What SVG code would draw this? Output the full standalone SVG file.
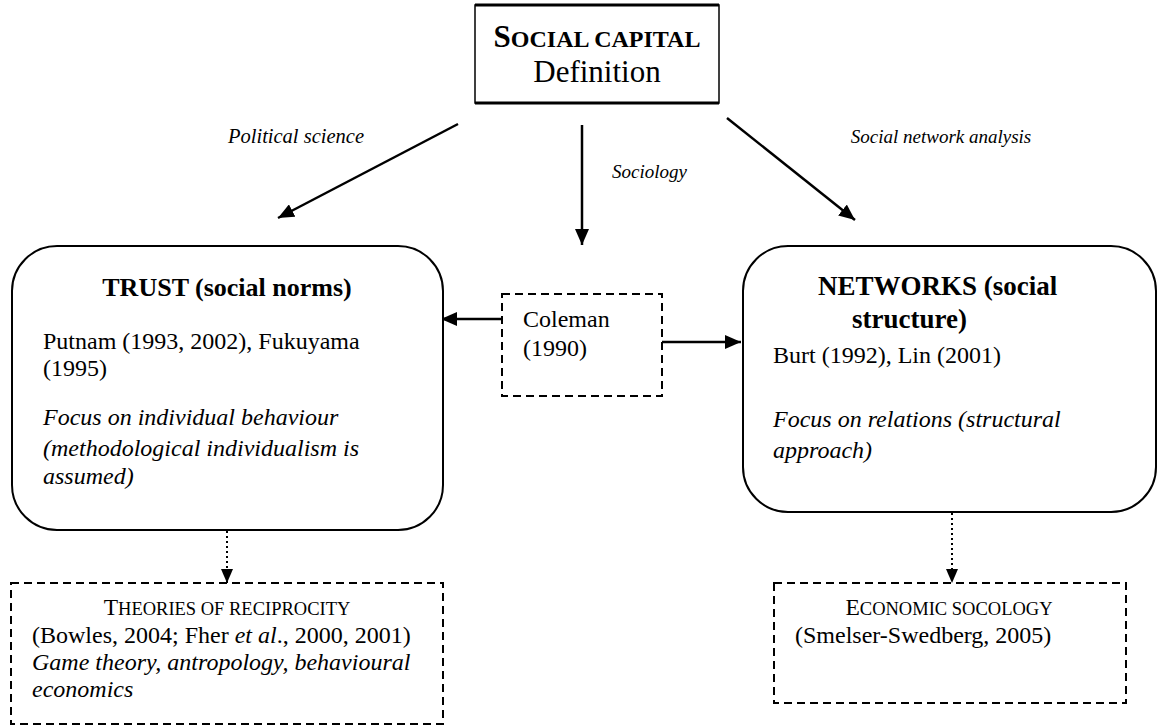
<svg xmlns="http://www.w3.org/2000/svg" width="1158" height="726" viewBox="0 0 1158 726" font-family="'Liberation Serif', 'Times New Roman', serif">
<style>
text, tspan{font-family:"Liberation Serif","Times New Roman",serif;fill:#000}
.b{font-size:24px}
.i{font-style:italic}
.bold{font-weight:bold}
.lab{font-size:19px;font-style:italic}
.box{fill:#fff;stroke:#000;stroke-width:2}
.dash{fill:none;stroke:#000;stroke-width:2;stroke-dasharray:8,5}
.arr{stroke:#000;stroke-width:2.5;fill:none}
.dot{stroke:#000;stroke-width:2;stroke-dasharray:2,3;fill:none}
</style>
<defs>
<marker id="ah" viewBox="0 0 16 14" refX="16" refY="7" markerWidth="16" markerHeight="14" markerUnits="userSpaceOnUse" orient="auto">
<path d="M0,0 L16,7 L0,14 Z" fill="#000"/>
</marker>
<marker id="ahs" viewBox="0 0 14 12" refX="14" refY="6" markerWidth="14" markerHeight="12" markerUnits="userSpaceOnUse" orient="auto">
<path d="M0,0 L14,6 L0,12 Z" fill="#000"/>
</marker>
</defs>
<g id="connectors">
<line class="arr" x1="458" y1="124" x2="278" y2="218" marker-end="url(#ah)"/>
<line class="arr" x1="582" y1="125" x2="582" y2="245" marker-end="url(#ah)"/>
<line class="arr" x1="727" y1="118" x2="855" y2="220" marker-end="url(#ah)"/>
<line class="arr" x1="502" y1="319" x2="441" y2="319" marker-end="url(#ah)"/>
<line class="arr" x1="662" y1="342" x2="741" y2="342" marker-end="url(#ah)"/>
<line class="dot" x1="227" y1="531" x2="227" y2="583" marker-end="url(#ahs)"/>
<line class="dot" x1="952" y1="513" x2="952" y2="583" marker-end="url(#ahs)"/>
<text class="lab" x="296" y="143" text-anchor="middle" style="font-size:20.5px">Political science</text>
<text class="lab" x="941" y="143" text-anchor="middle">Social network analysis</text>
<text class="lab" x="612" y="178">Sociology</text>
</g>
<g id="social-capital">
<rect x="475" y="5" width="244" height="98" fill="#fff" stroke="#000" stroke-width="1.5"/>
<line x1="475" y1="5" x2="719" y2="5" stroke="#000" stroke-width="3"/>
<line x1="475" y1="103" x2="719" y2="103" stroke="#000" stroke-width="3"/>
<text class="bold" x="597" y="47" text-anchor="middle"><tspan font-size="31px">S</tspan><tspan font-size="24px">OCIAL CAPITAL</tspan></text>
<text x="597" y="82" text-anchor="middle" font-size="31px">Definition</text>
</g>
<g id="trust">
<rect class="box" x="12" y="246" width="431" height="284" rx="45" ry="45"/>
<text class="bold" x="227" y="296" text-anchor="middle" font-size="26px">TRUST (social norms)</text>
<text class="b" x="43" y="349">Putnam (1993, 2002), Fukuyama</text>
<text class="b" x="43" y="376">(1995)</text>
<text class="b i" x="43" y="425">Focus on individual behaviour</text>
<text class="b i" x="43" y="456">(methodological individualism is</text>
<text class="b i" x="43" y="484">assumed)</text>
</g>
<g id="coleman">
<rect class="dash" x="502" y="294" width="160" height="102"/>
<text class="b" x="523" y="327">Coleman</text>
<text class="b" x="523" y="356">(1990)</text>
</g>
<g id="networks">
<rect class="box" x="743" y="246" width="413" height="266" rx="45" ry="45"/>
<text class="bold" x="818" y="295" font-size="27px">NETWORKS (social</text>
<text class="bold" x="852" y="328" font-size="27px">structure)</text>
<text class="b" x="773" y="363">Burt (1992), Lin (2001)</text>
<text class="b i" x="773" y="427">Focus on relations (structural</text>
<text class="b i" x="773" y="458">approach)</text>
</g>
<g id="reciprocity">
<rect class="dash" x="11" y="583" width="432" height="141"/>
<text x="227" y="615" text-anchor="middle"><tspan font-size="23.5px">T</tspan><tspan font-size="18.5px">HEORIES OF RECIPROCITY</tspan></text>
<text class="b" x="32" y="643">(Bowles, 2004; Fher <tspan class="i">et al</tspan>., 2000, 2001)</text>
<text class="b i" x="32" y="670">Game theory, antropology, behavioural</text>
<text class="b i" x="32" y="697">economics</text>
</g>
<g id="economic-sociology">
<rect class="dash" x="774" y="583" width="352" height="120"/>
<text x="949" y="615" text-anchor="middle"><tspan font-size="23.5px">E</tspan><tspan font-size="18.5px">CONOMIC SOCOLOGY</tspan></text>
<text class="b" x="795" y="643">(Smelser-Swedberg, 2005)</text>
</g>
</svg>
